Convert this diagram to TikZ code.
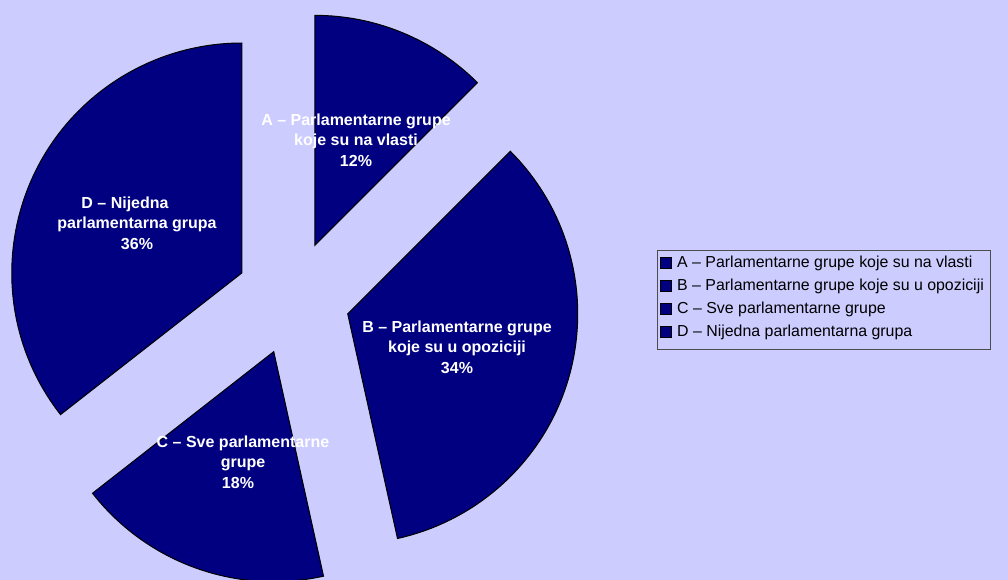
\documentclass[tikz,border=0pt]{standalone}
\usepackage{fontspec}
\setmainfont{Liberation Sans}
\usetikzlibrary{calc}

\definecolor{piebg}{HTML}{CCCCFF}
\definecolor{pienavy}{HTML}{000080}

\newcommand{\pieslice}[2]{%
  \filldraw[slice] ($(ctr)+({(#1+#2)/2}:57pt)$) -- ++(#1:230pt)
    arc[start angle=#1,end angle=#2,radius=230pt] -- cycle;}

\begin{document}
\begin{tikzpicture}[x=1pt,y=1pt,
  slice/.style={fill=pienavy,draw=black,line width=1pt,line join=miter},
  slicelabel/.style={text=white,align=center,inner sep=0pt,
    font=\bfseries\fontsize{16}{20.5}\selectfont},
  keybox/.style={fill=pienavy,draw=black,line width=0.8pt,minimum width=11pt,
    minimum height=11pt,inner sep=0pt},
  keytext/.style={anchor=west,inner sep=0pt,font=\fontsize{15.9}{18}\selectfont}]

	\fill[piebg] (0,0) rectangle (1008,580);
	\useasboundingbox (0,0) rectangle (1008,580);
	\coordinate (ctr) at (293,282);

	\pieslice{90}{45}
	\pieslice{45}{-77.5}
	\pieslice{-77.5}{-142}
	\pieslice{-142}{-270}

	\node[slicelabel] (A) at (356,440) {A – Parlamentarne grupe\\koje su na vlasti\\12\%};
	\node[slicelabel] (B) at (457,233) {B – Parlamentarne grupe\\koje su u opoziciji\hspace*{22pt}\\34\%};
	\node[slicelabel] (C) at (243,118) {C – Sve parlamentarne\\grupe\hspace*{22pt}\\18\%\hspace*{10pt}};
	\node[slicelabel] (D) at (137,357) {D – Nijedna\hspace*{24pt}\\parlamentarna grupa\\36\%};

	\draw[black!70,line width=0.8pt] (657,231) rectangle (990,330);
	\node[keybox] (KA) at (666,317) {};
	\node[keybox] (KB) at (666,294) {};
	\node[keybox] (KC) at (666,271) {};
	\node[keybox] (KD) at (666,248) {};
	\node[keytext] (TA) at (677,317) {A – Parlamentarne grupe koje su na vlasti};
	\node[keytext] (TB) at (677,294) {B – Parlamentarne grupe koje su u opoziciji};
	\node[keytext] (TC) at (677,271) {C – Sve parlamentarne grupe};
	\node[keytext] (TD) at (677,248) {D – Nijedna parlamentarna grupa};
\end{tikzpicture}
\end{document}
